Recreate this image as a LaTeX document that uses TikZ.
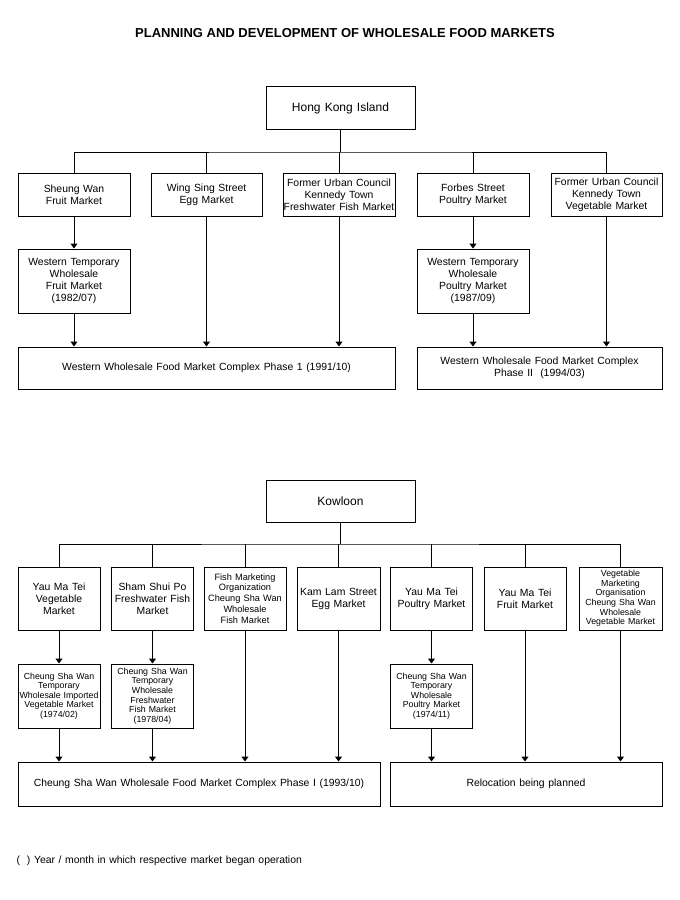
\documentclass[tikz,border=0pt]{standalone}
\usepackage{fontspec}
\setmainfont{Liberation Sans}[WordSpace=1.25]
\newfontfamily\titlefont{Liberation Sans}[WordSpace=1.0]
\usetikzlibrary{arrows.meta}
\begin{document}
\begin{tikzpicture}[x=1pt,y=-1pt,
  line width=1pt,
  box/.style={draw, line width=1pt, inner sep=0pt, align=center, font=\fontsize{10.4}{12}\selectfont},
  smallbox/.style={box, font=\fontsize{8.8}{9.6}\selectfont},
  midbox/.style={box, font=\fontsize{9.2}{10.8}\selectfont},
  topbox/.style={box, font=\fontsize{12}{14}\selectfont},
  arr/.style={-{Triangle[width=7pt,length=5pt]}, line width=1pt}
]
\useasboundingbox (0,0) rectangle (680,900);
\node[font=\titlefont\fontsize{13}{15}\selectfont\bfseries] (title) at (345,33) {PLANNING AND DEVELOPMENT OF WHOLESALE FOOD MARKETS};

% Hong Kong Island
\node[topbox, minimum width=149pt, minimum height=43pt] (hk) at (340.5,108) {Hong Kong Island};
\coordinate (hkj) at (340.5,152);
\node[box, minimum width=112pt, minimum height=43pt] (sw) at (74,194.5) {Sheung Wan\\Fruit Market};
\node[box, minimum width=111pt, minimum height=43pt] (ws) at (206.5,194.5) {Wing Sing Street\\Egg Market};
\node[box, minimum width=112pt, minimum height=43pt] (ff) at (339,194.5) {Former Urban Council\\Kennedy Town\\Freshwater Fish Market};
\node[box, minimum width=112pt, minimum height=43pt] (fb) at (473,194.5) {Forbes Street\\Poultry Market};
\node[box, minimum width=111pt, minimum height=43pt] (fv) at (606.5,194.5) {Former Urban Council\\Kennedy Town\\Vegetable Market};
\node[box, minimum width=112pt, minimum height=64pt] (wtf) at (74,281) {Western Temporary\\Wholesale\\Fruit Market\\(1982/07)};
\node[box, minimum width=112pt, minimum height=64pt] (wtp) at (473,281) {Western Temporary\\Wholesale\\Poultry Market\\(1987/09)};
\node[box, minimum width=377pt, minimum height=42pt] (p1) at (206.5,368) {Western Wholesale Food Market Complex Phase 1 (1991/10)};
\node[box, minimum width=245pt, minimum height=42pt] (p2) at (539.5,368) {Western Wholesale Food Market Complex\\Phase II\ \ (1994/03)};

\draw (hk.south) -- (hkj);
\draw (sw.north) |- (hkj) -| (fv.north);
\draw (ws.north) -- (ws.north |- hkj);
\draw (ff.north) -- (ff.north |- hkj);
\draw (fb.north) -- (fb.north |- hkj);
\draw[arr] (sw.south) -- (wtf.north);
\draw[arr] (wtf.south) -- (wtf.south |- p1.north);
\draw[arr] (ws.south) -- (ws.south |- p1.north);
\draw[arr] (ff.south) -- (ff.south |- p1.north);
\draw[arr] (fb.south) -- (wtp.north);
\draw[arr] (wtp.south) -- (wtp.south |- p2.north);
\draw[arr] (fv.south) -- (fv.south |- p2.north);

% Kowloon
\node[topbox, minimum width=149pt, minimum height=42pt] (kl) at (340.5,501) {Kowloon};
\coordinate (klj) at (340.5,544);
\node[box, minimum width=82pt, minimum height=63pt] (k1) at (59,598.5) {Yau Ma Tei\\Vegetable\\Market};
\node[box, minimum width=82pt, minimum height=63pt] (k2) at (152.5,598.5) {Sham Shui Po\\Freshwater Fish\\Market};
\node[midbox, minimum width=82pt, minimum height=63pt] (k3) at (245,598.5) {Fish Marketing\\Organization\\Cheung Sha Wan\\Wholesale\\Fish Market};
\node[box, minimum width=83pt, minimum height=63pt] (k4) at (338.5,598.5) {Kam Lam Street\\Egg Market};
\node[box, minimum width=82pt, minimum height=63pt] (k5) at (431.5,598.5) {Yau Ma Tei\\Poultry Market};
\node[box, minimum width=82pt, minimum height=63pt] (k6) at (525,598.5) {Yau Ma Tei\\Fruit Market};
\node[smallbox, minimum width=83pt, minimum height=63pt] (k7) at (620.5,598.5) {Vegetable\\Marketing\\Organisation\\Cheung Sha Wan\\Wholesale\\Vegetable Market};
\node[smallbox, minimum width=82pt, minimum height=64pt] (t1) at (59,696) {Cheung Sha Wan\\Temporary\\Wholesale Imported\\Vegetable Market\\(1974/02)};
\node[smallbox, minimum width=82pt, minimum height=64pt] (t2) at (152.5,696) {Cheung Sha Wan\\Temporary\\Wholesale\\Freshwater\\Fish Market\\(1978/04)};
\node[smallbox, minimum width=82pt, minimum height=64pt] (t5) at (431.5,696) {Cheung Sha Wan\\Temporary\\Wholesale\\Poultry Market\\(1974/11)};
\node[box, minimum width=362pt, minimum height=44pt] (c1) at (199,784) {Cheung Sha Wan Wholesale Food Market Complex Phase I (1993/10)};
\node[box, minimum width=272pt, minimum height=44pt] (c2) at (526,784) {Relocation being planned};

\draw (kl.south) -- (klj);
\draw (k1.north) |- (klj) -| (k7.north);
\foreach \n in {k2,k3,k4,k5,k6} \draw (\n.north) -- (\n.north |- klj);
\draw[arr] (k1.south) -- (t1.north);
\draw[arr] (k2.south) -- (t2.north);
\draw[arr] (k5.south) -- (t5.north);
\draw[arr] (t1.south) -- (t1.south |- c1.north);
\draw[arr] (t2.south) -- (t2.south |- c1.north);
\draw[arr] (k3.south) -- (k3.south |- c1.north);
\draw[arr] (k4.south) -- (k4.south |- c1.north);
\draw[arr] (t5.south) -- (t5.south |- c2.north);
\draw[arr] (k6.south) -- (k6.south |- c2.north);
\draw[arr] (k7.south) -- (k7.south |- c2.north);

\node[anchor=west, inner sep=0pt, font=\fontsize{10.4}{12}\selectfont] (note) at (16,861) {(\hspace{7pt}) Year / month in which respective market began operation};
\end{tikzpicture}
\end{document}
